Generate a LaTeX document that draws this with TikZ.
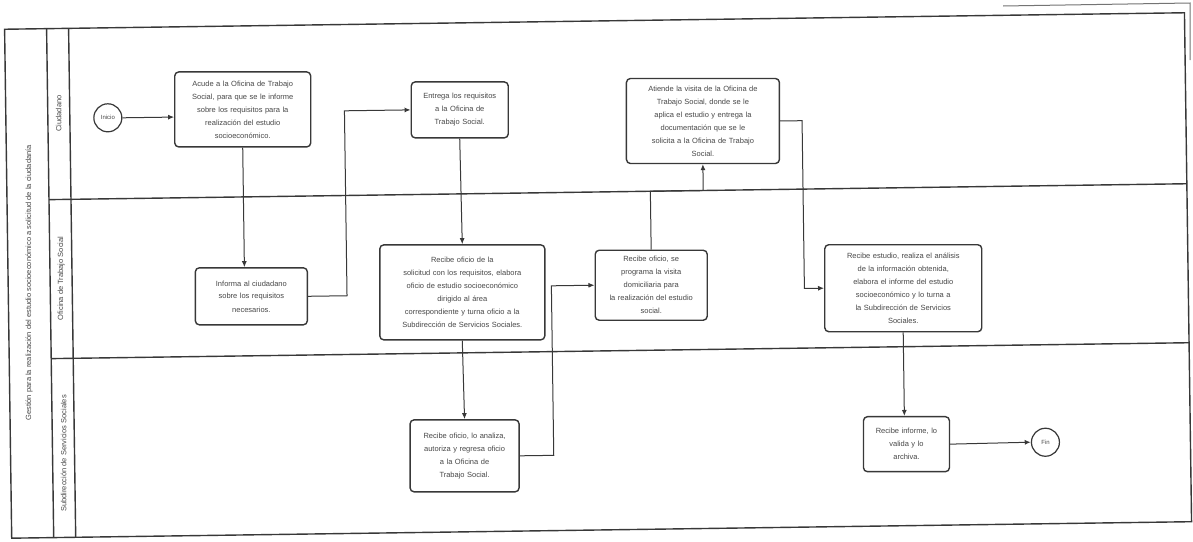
\documentclass[tikz,border=0pt]{standalone}
\usepackage{fontspec}
\setmainfont{Liberation Sans}
\usetikzlibrary{arrows.meta,calc}

\definecolor{ink}{gray}{0.22}
\definecolor{txt}{gray}{0.28}

\tikzset{
  task/.style={draw=ink, line width=1.4pt, rounded corners=4pt, align=center,
    fill=white, text=txt, inner sep=2pt, font=\fontsize{7.5}{13}\selectfont},
  event/.style={draw=ink, line width=1.2pt, circle, minimum size=28pt, inner sep=0pt,
    text=txt, font=\fontsize{6}{7}\selectfont},
  flow/.style={draw=ink, line width=1pt, -{Latex[length=6pt,width=5pt]}},
  frame/.style={draw=ink, line width=1.4pt},
  lanelabel/.style={text=txt, rotate=90, font=\fontsize{7.5}{9}\selectfont},
}

\begin{document}
\begin{tikzpicture}[x=1pt,y=-1pt]
\useasboundingbox (0,0) rectangle (1193,541);
\fill[white] (0,0) rectangle (1193,541);

% top edge of the sheet
\draw[ink!70, line width=1pt] (1003,6) -- (1190,3) -- (1190,60);

\begin{scope}[rotate around={0.8:(596,270)}]

% pool and lanes
\draw[frame] (8,21) rectangle (1188,530);
\draw[frame] (50,21) -- (50,530);
\draw[frame] (72,21) -- (72,530);
\draw[frame] (50,192) -- (1188,192);
\draw[frame] (50,351) -- (1188,351);
\coordinate (bend) at (0,192);

\node[lanelabel] (pool) at (29,275) {Gestión para la realización del estudio socioeconómico a solicitud de la ciudadanía};
\node[lanelabel] (l1) at (61,106) {Ciudadano};
\node[lanelabel] (l2) at (61,271) {Oficina de Trabajo Social};
\node[lanelabel] (l3) at (61,446) {Subdirección de Servicios Sociales};

% events
\node[event] (start) at (110,111) {Inicio};
\node[event] (end) at (1043,448.5) {Fin};

% activities
\node[task, minimum width=136, minimum height=75, text width=126] (t1) at (245,104.5)
  {Acude a la Oficina de Trabajo\\Social, para que se le informe\\sobre los requisitos para la\\realización del estudio\\socioeconómico.};
\node[task, minimum width=112, minimum height=57, text width=102] (t2) at (251,291.5)
  {Informa al ciudadano\\sobre los requisitos\\necesarios.};
\node[task, minimum width=97, minimum height=56, text width=90] (t3) at (462,108)
  {Entrega los requisitos\\a la Oficina de\\Trabajo Social.};
\node[task, minimum width=165, minimum height=95, text width=155] (t4) at (462,290.5)
  {Recibe oficio de la\\solicitud con los requisitos, elabora\\oficio de estudio socioeconómico\\dirigido al área\\correspondiente y turna oficio a la\\Subdirección de Servicios Sociales.};
\node[task, minimum width=109, minimum height=72, text width=101] (t5) at (462,454)
  {Recibe oficio, lo analiza,\\autoriza y regresa oficio\\a la Oficina de\\Trabajo Social.};
\node[task, minimum width=112, minimum height=70, text width=104] (t6) at (651,286)
  {Recibe oficio, se\\programa la visita\\domiciliaria para\\la realización del estudio\\social.};
\node[task, minimum width=153, minimum height=85, text width=143] (t7) at (705,122.5)
  {Atiende la visita de la Oficina de\\Trabajo Social, donde se le\\aplica el estudio y entrega la\\documentación que se le\\solicita a la Oficina de Trabajo\\Social.};
\node[task, minimum width=157, minimum height=87, text width=147] (t8) at (903,292.5)
  {Recibe estudio, realiza el análisis\\de la información obtenida,\\elabora el informe del estudio\\socioeconómico y lo turna a\\la Subdirección de Servicios\\Sociales.};
\node[task, minimum width=86, minimum height=55, text width=80] (t9) at (904,448.5)
  {Recibe informe, lo\\valida y lo\\archiva.};

% sequence flows
\draw[flow] (start.east) -- (start.east -| t1.west);
\draw[flow] (t1.south) -- (t1.south |- t2.north);
\draw[flow] (t2.east) -- ++(39,0) |- (t3.west);
\draw[flow] (t3.south) -- (t4.north);
\draw[flow] (t4.south) -- (t5.north);
\draw[flow] (t5.east) -- ++(34,0) |- (t6.west);
\draw[flow] (t6.north) -- (t6.north |- bend) -| (t7.south);
\draw[flow] (t7.east) -- ++(22,0) |- (t8.west);
\draw[flow] (t8.south) -- (t8.south |- t9.north);
\draw[flow] (t9.east) -- (end.west);

\end{scope}
\end{tikzpicture}
\end{document}
